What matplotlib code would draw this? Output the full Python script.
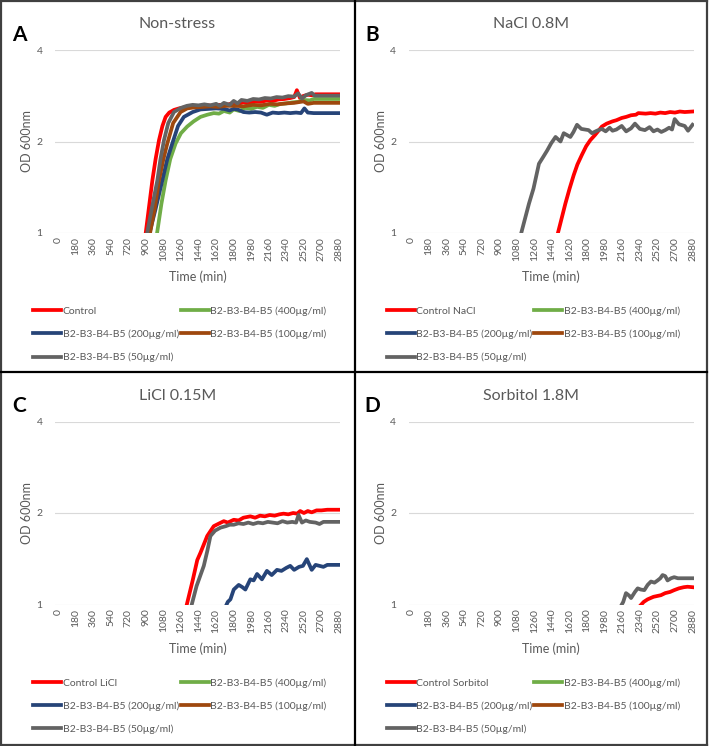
import numpy as np
import matplotlib
matplotlib.use("Agg")
import matplotlib.pyplot as plt
from matplotlib.lines import Line2D

plt.rcParams.update({
    "font.family": ["Lato", "DejaVu Sans"],
    "font.size": 8,
})

TEXT_GREY = "#595959"
GRID_GREY = "#d9d9d9"
# Control, 400, 200, 100, 50 ug/ml
COLORS = ["#ff0000", "#70ad47", "#264478", "#9e480e", "#636363"]
DOSE_LABELS = ["B2-B3-B4-B5 (400µg/ml)", "B2-B3-B4-B5 (200µg/ml)",
               "B2-B3-B4-B5 (100µg/ml)", "B2-B3-B4-B5 (50µg/ml)"]
X_TICKS = list(range(0, 2881, 180))

# ---- A: Non-stress ----
A_CTRL_T = [890, 930, 967, 1000, 1035, 1070, 1103, 1140, 1188, 1240, 1300, 1360, 1420, 1480,
            1540, 1600, 1660, 1720, 1780, 1840, 1900, 1960, 2020, 2080, 2140, 2200, 2260, 2320,
            2380, 2420, 2448, 2480, 2510, 2560, 2600, 2640, 2880]
A_CTRL = [0.95, 1.2, 1.49, 1.75, 2.02, 2.25, 2.41, 2.49, 2.54, 2.57, 2.59, 2.60, 2.61, 2.60,
          2.63, 2.62, 2.64, 2.63, 2.67, 2.66, 2.69, 2.67, 2.71, 2.70, 2.73, 2.72, 2.75, 2.76,
          2.78, 2.80, 2.95, 2.78, 2.82, 2.85, 2.84, 2.86, 2.86]
A_400_T = [1005, 1060, 1103, 1150, 1205, 1260, 1324, 1390, 1460, 1530, 1596, 1650, 1700, 1760,
           1800, 1860, 1920, 1980, 2040, 2100, 2160, 2220, 2280, 2340, 2400, 2460, 2520, 2580,
           2620, 2880]
A_400 = [0.95, 1.25, 1.49, 1.75, 1.97, 2.13, 2.24, 2.33, 2.41, 2.45, 2.48, 2.47, 2.52, 2.49,
         2.55, 2.52, 2.58, 2.56, 2.60, 2.58, 2.64, 2.62, 2.66, 2.67, 2.69, 2.70, 2.74, 2.73,
         2.76, 2.76]
A_200_T = [920, 1000, 1069, 1120, 1171, 1230, 1290, 1380, 1460, 1540, 1620, 1700, 1760, 1800,
           1840, 1900, 1960, 2020, 2080, 2140, 2200, 2260, 2320, 2380, 2440, 2490, 2525, 2560,
           2620, 2880]
A_200 = [0.95, 1.2, 1.49, 1.75, 1.97, 2.25, 2.41, 2.5, 2.55, 2.56, 2.57, 2.56, 2.53, 2.56,
         2.55, 2.50, 2.49, 2.50, 2.49, 2.45, 2.49, 2.48, 2.49, 2.48, 2.49, 2.48, 2.57, 2.49,
         2.48, 2.48]
A_100_T = [930, 990, 1035, 1080, 1120, 1180, 1256, 1324, 1400, 1494, 1560, 1640, 1720, 1835,
           1900, 1960, 2005, 2080, 2175, 2250, 2346, 2420, 2516, 2560, 2620, 2880]
A_100 = [0.95, 1.2, 1.49, 1.75, 1.97, 2.3, 2.5, 2.57, 2.59, 2.60, 2.61, 2.60, 2.62, 2.62,
         2.61, 2.63, 2.64, 2.63, 2.66, 2.65, 2.67, 2.68, 2.71, 2.66, 2.68, 2.68]
A_50_T = [900, 960, 1018, 1050, 1086, 1130, 1188, 1260, 1320, 1380, 1440, 1500, 1560, 1620,
          1660, 1700, 1760, 1800, 1840, 1880, 1940, 2000, 2060, 2120, 2180, 2240, 2300, 2360,
          2420, 2460, 2500, 2540, 2600, 2630, 2880]
A_50 = [0.95, 1.2, 1.49, 1.75, 2.02, 2.3, 2.5, 2.58, 2.62, 2.64, 2.63, 2.65, 2.63, 2.66,
        2.62, 2.68, 2.64, 2.72, 2.67, 2.74, 2.72, 2.76, 2.75, 2.78, 2.77, 2.80, 2.79, 2.82,
        2.81, 2.88, 2.77, 2.84, 2.89, 2.83, 2.83]

# ---- B: NaCl 0.8M ----
B_CTRL_T = [1490, 1577, 1620, 1662, 1700, 1747, 1790, 1832, 1880, 1951, 2000, 2060, 2100, 2154,
            2200, 2250, 2300, 2324, 2400, 2450, 2500, 2550, 2600, 2650, 2700, 2750, 2800, 2880]
B_CTRL = [0.97, 1.25, 1.4, 1.55, 1.68, 1.81, 1.93, 2.02, 2.1, 2.24, 2.29, 2.33, 2.35, 2.39,
          2.41, 2.44, 2.45, 2.48, 2.47, 2.48, 2.47, 2.49, 2.48, 2.50, 2.49, 2.51, 2.50, 2.51]
B_50_T = [1110, 1204, 1250, 1306, 1350, 1391, 1430, 1476, 1527, 1560, 1628, 1660, 1696, 1740,
          1815, 1849, 1900, 1950, 1990, 2030, 2060, 2100, 2154, 2200, 2250, 2290, 2340, 2392,
          2440, 2480, 2520, 2560, 2600, 2640, 2670, 2697, 2740, 2800, 2834, 2880]
B_50 = [0.96, 1.25, 1.4, 1.69, 1.78, 1.87, 1.97, 2.07, 2.0, 2.13, 2.07, 2.15, 2.27, 2.2,
        2.18, 2.13, 2.17, 2.2, 2.16, 2.22, 2.17, 2.19, 2.25, 2.16, 2.21, 2.29, 2.2, 2.18,
        2.23, 2.16, 2.19, 2.15, 2.18, 2.22, 2.19, 2.37, 2.28, 2.25, 2.17, 2.27]

# ---- C: LiCl 0.15M ----
C_CTRL_T = [1310, 1380, 1427, 1460, 1529, 1596, 1640, 1699, 1740, 1801, 1850, 1900, 1971, 2020,
            2070, 2120, 2170, 2220, 2270, 2311, 2360, 2410, 2450, 2482, 2520, 2560, 2600, 2650,
            2700, 2760, 2880]
C_CTRL = [0.97, 1.2, 1.40, 1.48, 1.68, 1.81, 1.84, 1.88, 1.86, 1.9, 1.89, 1.93, 1.95, 1.93,
          1.96, 1.95, 1.97, 1.96, 1.98, 1.99, 1.98, 2.0, 1.99, 2.03, 2.0, 2.03, 2.01, 2.04,
          2.04, 2.05, 2.05]
C_200_T = [1715, 1740, 1767, 1801, 1852, 1890, 1920, 1971, 2005, 2040, 2090, 2141, 2190, 2244,
           2290, 2340, 2380, 2420, 2470, 2510, 2550, 2600, 2640, 2680, 2720, 2760, 2880]
C_200 = [0.98, 1.02, 1.04, 1.12, 1.16, 1.14, 1.12, 1.21, 1.2, 1.26, 1.21, 1.29, 1.25, 1.30,
         1.29, 1.32, 1.34, 1.30, 1.33, 1.34, 1.41, 1.30, 1.35, 1.34, 1.33, 1.35, 1.35]
C_50_T = [1360, 1420, 1494, 1530, 1562, 1610, 1665, 1720, 1760, 1801, 1850, 1900, 1950, 2000,
          2050, 2100, 2150, 2200, 2250, 2300, 2350, 2400, 2440, 2465, 2500, 2540, 2580, 2640,
          2680, 2720, 2880]
C_50 = [0.97, 1.15, 1.34, 1.5, 1.68, 1.75, 1.79, 1.81, 1.83, 1.83, 1.85, 1.84, 1.86, 1.84,
        1.86, 1.85, 1.87, 1.86, 1.85, 1.88, 1.86, 1.87, 1.86, 1.97, 1.86, 1.89, 1.87, 1.86,
        1.84, 1.87, 1.87]

# ---- D: Sorbitol 1.8M ----
D_CTRL_T = [2330, 2380, 2420, 2480, 2556, 2600, 2650, 2692, 2740, 2790, 2829, 2880]
D_CTRL = [0.98, 1.02, 1.04, 1.06, 1.073, 1.09, 1.10, 1.115, 1.13, 1.14, 1.144, 1.14]
D_50_T = [2140, 2170, 2198, 2230, 2250, 2290, 2318, 2350, 2386, 2420, 2454, 2490, 2522, 2550,
          2573, 2600, 2624, 2660, 2692, 2730, 2760, 2880]
D_50 = [0.98, 1.02, 1.09, 1.07, 1.05, 1.1, 1.13, 1.12, 1.115, 1.16, 1.19, 1.18, 1.2, 1.22,
        1.25, 1.24, 1.2, 1.22, 1.23, 1.22, 1.22, 1.22]

EMPTY = ([], [])

W, H = 709, 746


def fx(px):
    return px / W


def fy(py):
    return 1 - py / H


def draw_panel(fig, ox, oy, letter, title, ctrl_label, series):
    ax = fig.add_axes([fx(ox + 55), fy(oy + 233), 285 / W, 183 / H])
    ax.set_yscale("log", base=2)
    ax.set_ylim(1, 4)
    ax.set_xlim(-31, 2890)
    ax.set_yticks([1, 2, 4])
    ax.set_yticklabels(["1", "2", "4"])
    ax.minorticks_off()
    ax.set_xticks(X_TICKS)
    ax.set_xticklabels([str(t) for t in X_TICKS], rotation=90)
    ax.tick_params(length=0, labelsize=7.5, labelcolor=TEXT_GREY)
    ax.tick_params(axis="y", pad=9)
    ax.tick_params(axis="x", pad=3)
    ax.grid(axis="y", color=GRID_GREY, lw=0.8)
    ax.set_axisbelow(True)
    for s in ax.spines.values():
        s.set_visible(False)

    labels = [ctrl_label] + DOSE_LABELS
    handles = []
    for (t, v), c, lab in zip(series, COLORS, labels):
        ln, = ax.plot(t, v, color=c, lw=2.7, solid_joinstyle="round", label=lab)
        handles.append(ln)

    fig.text(fx(ox + 177.5), fy(oy + 24), title, ha="center", va="center",
             fontsize=11.5, color=TEXT_GREY)
    fig.text(fx(ox + 19), fy(oy + 35), letter, ha="center", va="center",
             fontsize=15, fontweight="bold", color="black")
    fig.text(fx(ox + 27), fy(oy + 141.5), "OD 600nm", rotation=90, ha="center",
             va="center", fontsize=9, color=TEXT_GREY)
    fig.text(fx(ox + 197.5), fy(oy + 277), "Time (min)", ha="center", va="center",
             fontsize=9, color=TEXT_GREY)

    # Excel fills legend row by row, matplotlib column by column
    order = [0, 2, 4, 1, 3]
    ax.legend([handles[i] for i in order], [labels[i] for i in order], ncol=2,
              loc="upper left", bbox_to_anchor=(fx(ox + 33), fy(oy + 306.5)),
              bbox_transform=fig.transFigure, frameon=False, fontsize=7.5,
              labelcolor=TEXT_GREY, borderpad=0, borderaxespad=0,
              handlelength=2.7, handletextpad=0.15, columnspacing=0.15,
              labelspacing=1.3)
    return ax


fig = plt.figure(figsize=(W / 100, H / 100), dpi=100)

draw_panel(fig, 0, 0, "A", "Non-stress", "Control",
           [(A_CTRL_T, A_CTRL), (A_400_T, A_400), (A_200_T, A_200),
            (A_100_T, A_100), (A_50_T, A_50)])
draw_panel(fig, 353.5, 0, "B", "NaCl 0.8M", "Control NaCl",
           [(B_CTRL_T, B_CTRL), EMPTY, EMPTY, EMPTY, (B_50_T, B_50)])
draw_panel(fig, 0, 371.5, "C", "LiCl 0.15M", "Control LiCl",
           [(C_CTRL_T, C_CTRL), EMPTY, (C_200_T, C_200), EMPTY, (C_50_T, C_50)])
draw_panel(fig, 353.5, 371.5, "D", "Sorbitol 1.8M", "Control Sorbitol",
           [(D_CTRL_T, D_CTRL), EMPTY, EMPTY, EMPTY, (D_50_T, D_50)])

# panel frames
for xs, ys, c in [
    ([1, 707], [1, 1], "#404040"),
    ([1, 707], [744.5, 744.5], "#404040"),
    ([1, 1], [1, 744.5], "#404040"),
    ([707, 707], [1, 744.5], "#404040"),
    ([354.5, 354.5], [1, 744.5], "black"),
    ([1, 707], [372.5, 372.5], "black"),
]:
    fig.add_artist(Line2D([fx(x) for x in xs], [fy(y) for y in ys], color=c, lw=1.6,
                          transform=fig.transFigure))

fig.savefig("out.png", dpi=100)
